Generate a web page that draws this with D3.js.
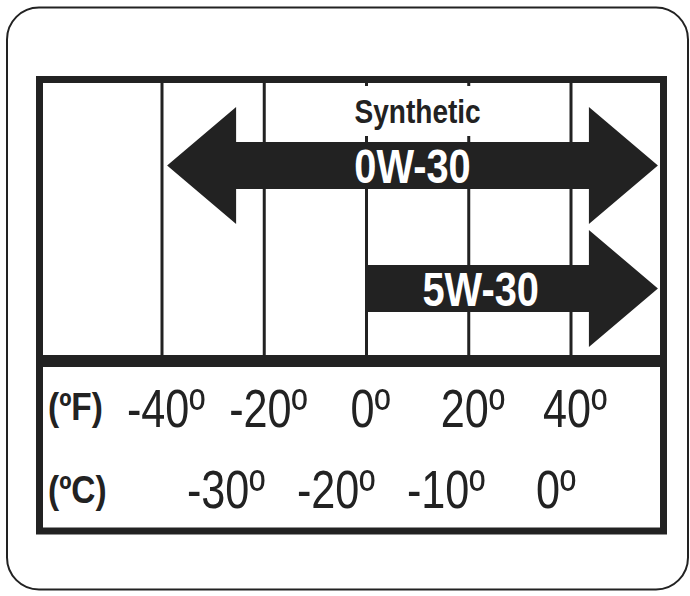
<!DOCTYPE html>
<html lang="en">
<head>
<meta charset="UTF-8">
<title>Oil viscosity chart</title>
<script src="https://d3js.org/d3.v7.min.js"></script>
<style>
  body { margin: 0; background: #fff; }
  text { font-family: "Liberation Sans", Arial, sans-serif; }
</style>
</head>
<body>
<div id="chart"></div>
<script>
// data
var fTicks = [-40, -20, 0, 20, 40];          // deg F, also the grid lines
var cTicks = [-30, -20, -10, 0];             // deg C
var grades = ["0W-30", "5W-30"];
var gradeFrom = [-39, 0];                    // deg F, left end of each arrow
var gradeTo = [57, 57];                      // deg F, right end (runs off the scale)
var gradeHeadLeft = [true, false];
var topLabel = "Synthetic";
var topLabelAt = 10;                         // deg F

var W = 690, H = 596;
var ink = "#222";

var svg = d3.select("#chart").append("svg")
    .attr("width", W)
    .attr("height", H);

// condensed look: no narrow font installed, so squeeze horizontally
function label(sel, px, py, size, bold, sx) {
  return sel
    .attr("transform", function(d, i) {
      var xx = typeof px === "function" ? px(d, i) : px;
      var yy = typeof py === "function" ? py(d, i) : py;
      return "translate(" + xx + "," + yy + ") scale(" + sx + ",1)";
    })
    .style("font-size", size + "px")
    .style("font-weight", bold ? "bold" : "normal");
}

// outer rounded box
svg.append("rect")
    .attr("x", 7).attr("y", 7.5)
    .attr("width", 681).attr("height", 582)
    .attr("rx", 32)
    .attr("fill", "none")
    .attr("stroke", ink)
    .attr("stroke-width", 2);

// scales
var x = d3.scaleLinear().domain([-40, 40]).range([162, 571]);
var xc = d3.scaleLinear().domain([-30, 0]).range([226, 556]);
var y = d3.scalePoint().domain(grades).range([165.5, 288.5]);

var inner = {left: 43, right: 660, top: 83, bottom: 528, sep: 355};

// grid lines
svg.append("g")
  .selectAll("rect")
  .data(fTicks)
  .enter().append("rect")
    .attr("x", function(d) { return x(d) - 1.5; })
    .attr("y", inner.top)
    .attr("width", 3)
    .attr("height", inner.sep - inner.top)
    .attr("fill", ink);

// white patch behind the "Synthetic" label
svg.append("rect")
    .attr("x", x(topLabelAt) - 72).attr("y", 86)
    .attr("width", 144).attr("height", 50)
    .attr("fill", "#fff");
label(svg.append("text"), x(topLabelAt), 123, 33, true, 0.85)
    .attr("text-anchor", "middle")
    .attr("fill", ink)
    .text(topLabel);

// arrows
var shaftH = 47, headH = 117, headL = 69;
function arrowPath(i) {
  var cy = y(grades[i]);
  var x0 = x(gradeFrom[i]), x1 = x(gradeTo[i]);
  var s = shaftH / 2, h = headH / 2;
  var p = d3.path();
  if (gradeHeadLeft[i]) {
    p.moveTo(x0, cy);
    p.lineTo(x0 + headL, cy - h);
    p.lineTo(x0 + headL, cy - s);
  } else {
    p.moveTo(x0, cy - s);
  }
  p.lineTo(x1 - headL, cy - s);
  p.lineTo(x1 - headL, cy - h);
  p.lineTo(x1, cy);
  p.lineTo(x1 - headL, cy + h);
  p.lineTo(x1 - headL, cy + s);
  if (gradeHeadLeft[i]) {
    p.lineTo(x0 + headL, cy + s);
    p.lineTo(x0 + headL, cy + h);
  } else {
    p.lineTo(x0, cy + s);
  }
  p.closePath();
  return p.toString();
}

var arrows = svg.append("g")
  .selectAll("g")
  .data(grades)
  .enter().append("g");

arrows.append("path")
    .attr("d", function(d, i) { return arrowPath(i); })
    .attr("fill", ink);

label(arrows.append("text"),
    function(d, i) {
      var a = gradeHeadLeft[i] ? x(gradeFrom[i]) + headL : x(gradeFrom[i]);
      var b = x(gradeTo[i]) - headL;
      return (a + b) / 2 + (gradeHeadLeft[i] ? 0 : 3);
    },
    function(d) { return y(d) + 17; }, 48, true, 0.83)
    .attr("text-anchor", "middle")
    .attr("fill", "#fff")
    .text(function(d) { return d; });

// frame and separator
svg.append("rect")
    .attr("x", 39.5).attr("y", 79.5)
    .attr("width", 624).attr("height", 451.5)
    .attr("fill", "none")
    .attr("stroke", ink)
    .attr("stroke-width", 7);
svg.append("rect")
    .attr("x", inner.left).attr("y", inner.sep)
    .attr("width", inner.right - inner.left).attr("height", 12)
    .attr("fill", ink);

// temperature rows
label(svg.append("text"), 48, 420, 38, true, 0.88)
    .attr("fill", ink)
    .text("(\u00baF)");
label(svg.append("text"), 48, 503, 38, true, 0.88)
    .attr("fill", ink)
    .text("(\u00baC)");

label(svg.append("g")
  .selectAll("text")
  .data(fTicks)
  .enter().append("text"),
    function(d) { return x(d) + 4; }, 427, 54, false, 0.8)
    .attr("text-anchor", "middle")
    .attr("fill", ink)
    .text(function(d) { return d + "\u00ba"; });

label(svg.append("g")
  .selectAll("text")
  .data(cTicks)
  .enter().append("text"),
    function(d) { return xc(d); }, 508, 54, false, 0.8)
    .attr("text-anchor", "middle")
    .attr("fill", ink)
    .text(function(d) { return d + "\u00ba"; });
</script>
</body>
</html>
